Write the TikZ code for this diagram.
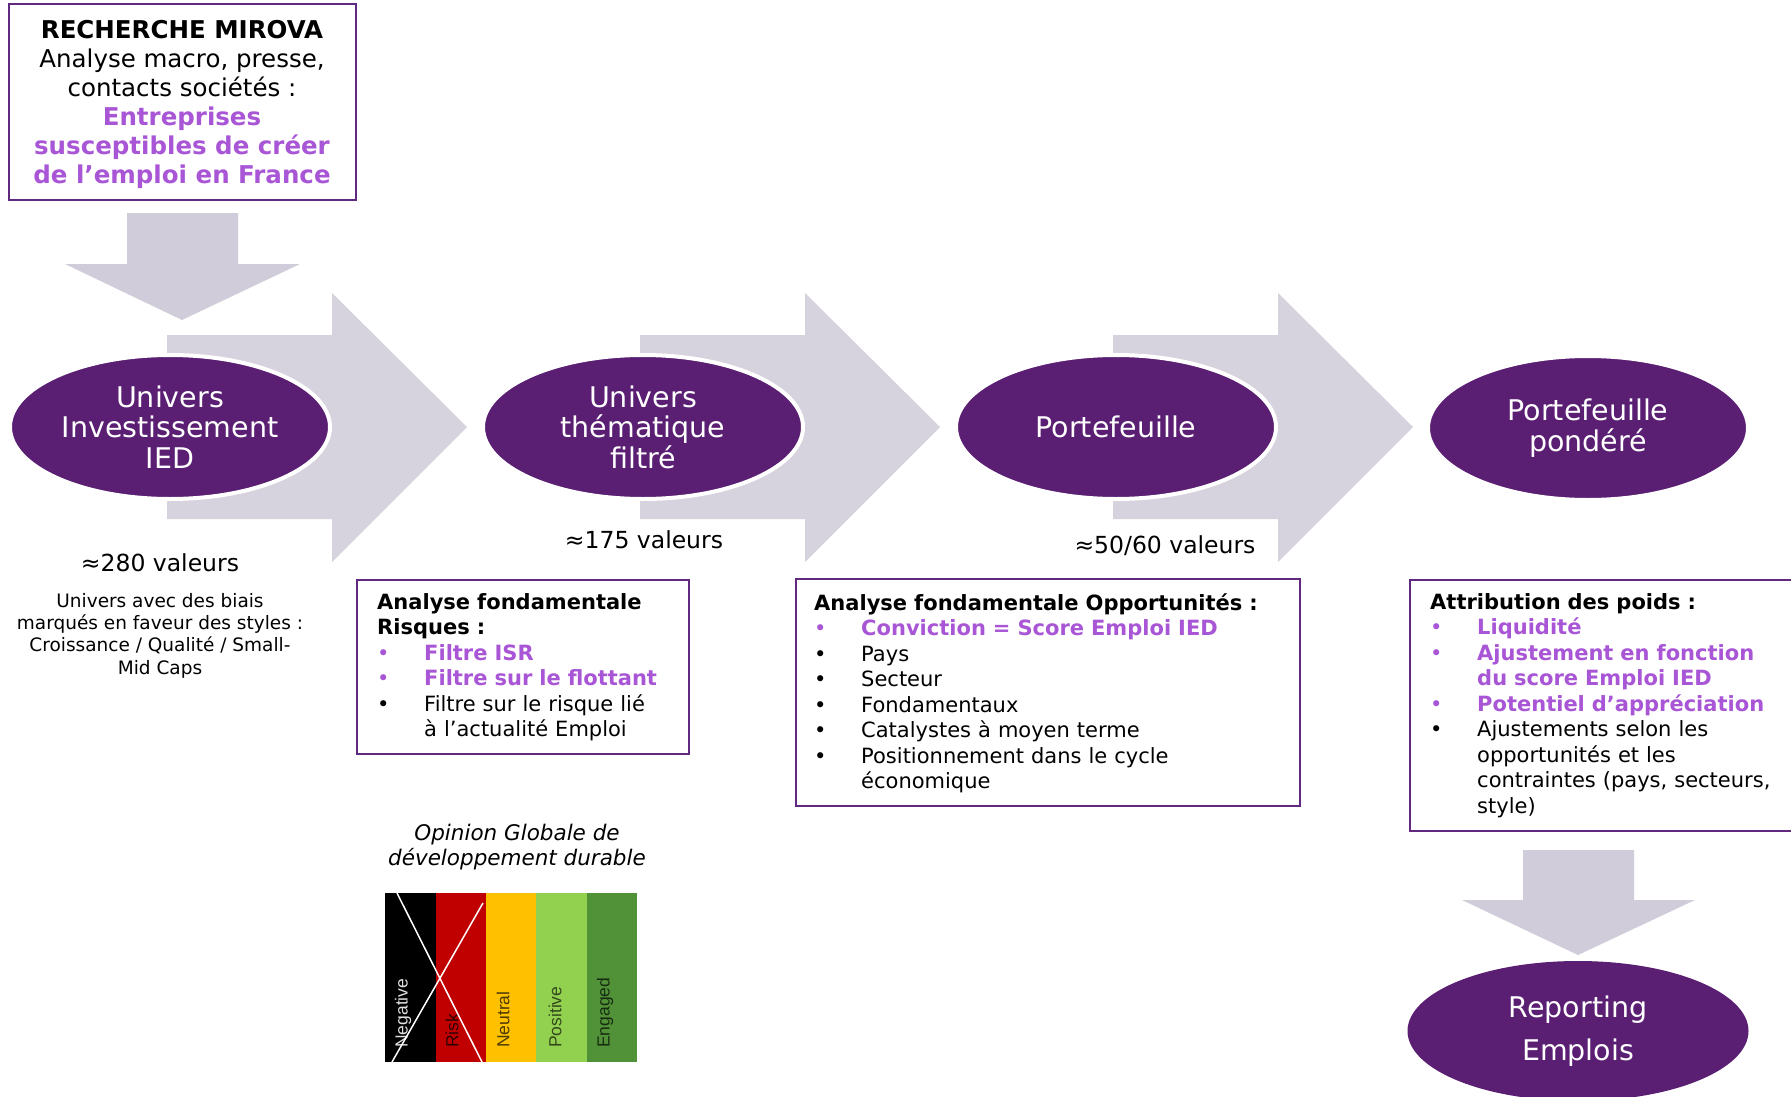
\documentclass[tikz,border=0pt]{standalone}
\usepackage{fontspec}
\setmainfont{DejaVu Sans}
\newfontfamily\arialf{Liberation Sans}
\usetikzlibrary{shapes.geometric}
\definecolor{epurple}{HTML}{5A1E73}
\definecolor{bpurple}{HTML}{60287F}
\definecolor{lpurple}{HTML}{A855D6}
\definecolor{agrey}{HTML}{D1CCD9}
\definecolor{rgrey}{HTML}{D7D3DE}
\definecolor{cred}{HTML}{C00000}
\definecolor{cyellow}{HTML}{FFC000}
\definecolor{clgreen}{HTML}{92D050}
\definecolor{cdgreen}{HTML}{519238}
\newcommand{\bl}{\makebox[47pt][l]{•}}
\newcommand{\ind}{\hspace*{47pt}}
\begin{document}
\begin{tikzpicture}[x=1pt,y=-1pt,
  oval/.style={ellipse, fill=epurple, draw=white, line width=4pt, minimum width=320pt, minimum height=144pt, inner sep=0pt, text=white, align=center, font=\fontsize{28.5}{30.5}\selectfont},
  boxframe/.style={draw=bpurple, line width=2pt, inner sep=0pt, anchor=north west},
  boxtext/.style={anchor=north west, inner sep=0pt, text width=#1, align=left, font=\fontsize{21}{25.5}\selectfont},
  count/.style={font=\fontsize{23.5}{28}\selectfont, inner sep=0pt},
  barlabel/.style={rotate=90, anchor=west, inner sep=0pt, font=\arialf\fontsize{17.5}{20}\selectfont},
]
\useasboundingbox (0,0) rectangle (1791,1097);
\clip (0,0) rectangle (1791,1097);
\fill[white] (0,0) rectangle (1791,1097);

% top box
\node[boxframe, minimum width=347pt, minimum height=196pt] (rech) at (8,3) {};
\node[align=center, font=\fontsize{24.5}{29}\selectfont, inner sep=0pt] (rechtext) at (182,104)
 {\textbf{RECHERCHE MIROVA}\\Analyse macro, presse,\\contacts sociétés :\\
  \textcolor{lpurple}{\textbf{Entreprises}}\\
  \textcolor{lpurple}{\textbf{susceptibles de créer}}\\
  \textcolor{lpurple}{\textbf{de l’emploi en France}}};

% down arrow from top box
\fill[agrey] (127,213) -- (238,213) -- (238,264) -- (300,264) -- (182,320) -- (65,264) -- (127,264) -- cycle;

% right arrows
\foreach \i in {0,1,2} {
  \fill[rgrey, xshift=473*\i] (167,335) -- (332,335) -- (332,293) -- (467,427) -- (332,562) -- (332,519) -- (167,519) -- cycle;
}

% ellipses
\node[oval] (u1) at (170,427) {Univers\\Investissement\\IED};
\node[oval] (u2) at (643,427) {Univers\\thématique\\filtré};
\node[oval] (u3) at (1116,427) {Portefeuille};
\node[oval] (u4) at (1588,428) {Portefeuille\\pondéré};

% counts
\node[count] (c1) at (160,563) {≈280 valeurs};
\node[count] (c2) at (644,540) {≈175 valeurs};
\node[count] (c3) at (1165,546) {≈50/60 valeurs};

\node[align=center, inner sep=0pt, font=\fontsize{18.5}{22.3}\selectfont] (univdesc) at (160,635.5)
 {Univers avec des biais\\marqués en faveur des styles :\\Croissance / Qualité / Small-\\Mid Caps};

% box 2
\node[boxframe, minimum width=332pt, minimum height=174pt] (riskbox) at (356,579) {};
\node[boxtext=300pt] (risktext) at (377,593)
 {\textbf{Analyse fondamentale}\\
  \textbf{Risques :}\\
  \textcolor{lpurple}{\bl\textbf{Filtre ISR}}\\
  \textcolor{lpurple}{\bl\textbf{Filtre sur le flottant}}\\
  \bl Filtre sur le risque lié\\
  \ind à l’actualité Emploi};

% box 3
\node[boxframe, minimum width=504pt, minimum height=227pt] (oppbox) at (795,578) {};
\node[boxtext=470pt] (opptext) at (814,593)
 {\textbf{Analyse fondamentale Opportunités :}\\
  \textcolor{lpurple}{\bl\textbf{Conviction = Score Emploi IED}}\\
  \bl Pays\\
  \bl Secteur\\
  \bl Fondamentaux\\
  \bl Catalystes à moyen terme\\
  \bl Positionnement dans le cycle\\
  \ind économique};

% box 4
\node[boxframe, minimum width=400pt, minimum height=251pt] (poidsbox) at (1409,579) {};
\node[boxtext=370pt] (poidstext) at (1430,593)
 {\textbf{Attribution des poids :}\\
  \textcolor{lpurple}{\bl\textbf{Liquidité}}\\
  \textcolor{lpurple}{\bl\textbf{Ajustement en fonction}}\\
  \textcolor{lpurple}{\ind\textbf{du score Emploi IED}}\\
  \textcolor{lpurple}{\bl\textbf{Potentiel d’appréciation}}\\
  \bl Ajustements selon les\\
  \ind opportunités et les\\
  \ind contraintes (pays, secteurs,\\
  \ind style)};

% down arrow to reporting
\fill[agrey] (1523,850) -- (1634,850) -- (1634,900) -- (1695,900) -- (1578,955) -- (1462,900) -- (1523,900) -- cycle;
\node[oval, draw=none, minimum width=341pt, minimum height=140pt, font=\fontsize{28.5}{43}\selectfont] (rep) at (1578,1031) {Reporting\\Emplois};

% legend
\node[align=center, inner sep=0pt, font=\itshape\fontsize{21.5}{25}\selectfont] (legtitle) at (517,847)
 {Opinion Globale de\\développement durable};
\fill[black]   (385,893) rectangle (436,1062);
\fill[cred]    (436,893) rectangle (486,1062);
\fill[cyellow] (486,893) rectangle (536,1062);
\fill[clgreen] (536,893) rectangle (587,1062);
\fill[cdgreen] (587,893) rectangle (637,1062);
\node[barlabel, text=black!12] (lneg) at (403,1048) {Negative};
\node[barlabel, text=black!75!cred] (lrisk) at (452,1048) {Risk};
\node[barlabel, text=black!70!cyellow] (lneu) at (503,1048) {Neutral};
\node[barlabel, text=black!65!clgreen] (lpos) at (555,1048) {Positive};
\node[barlabel, text=black!70!cdgreen] (leng) at (605,1048) {Engaged};
\draw[white, line width=1.5pt] (397,893) -- (482,1062);
\draw[white, line width=1.5pt] (392,1062) -- (483,903);
\end{tikzpicture}
\end{document}
